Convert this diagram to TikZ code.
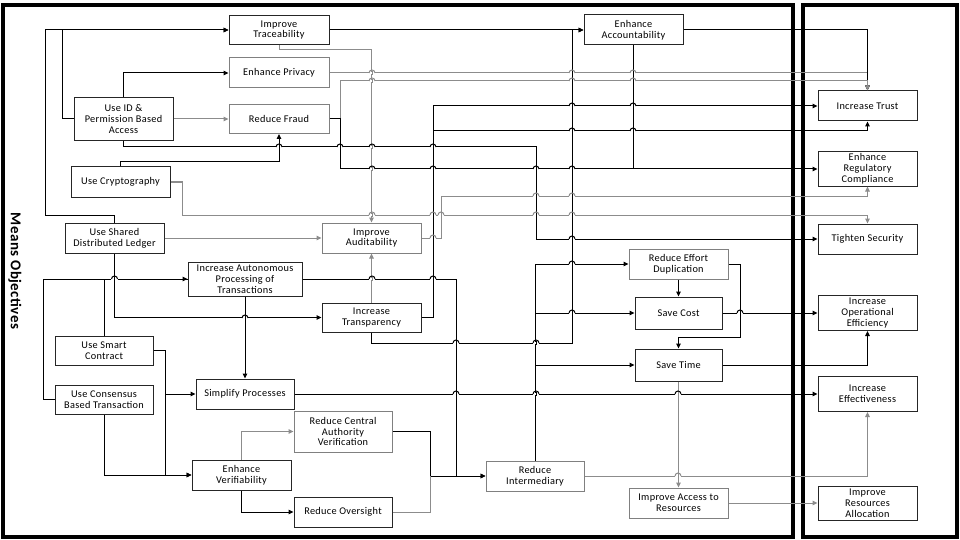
\documentclass[tikz,border=0pt]{standalone}
\usepackage{fontspec}
\setmainfont{Carlito}[LetterSpace=3]
\usetikzlibrary{arrows.meta}
\colorlet{lk}{black}
\colorlet{lg}{black!45}

\begin{document}
\begin{tikzpicture}[x=1pt,y=-1pt,
  box/.style={draw=black!85, line width=1pt, fill=white, align=center, inner sep=0pt,
    font=\fontsize{10.3}{10.8}\selectfont},
  gbox/.style={box, draw=black!50},
  wh/.style 2 args={minimum width=#1, minimum height=#2},
  wire/.style={draw=lk, line width=1pt, -{Triangle[length=5pt,width=4.5pt]}},
  gwire/.style={wire, draw=lg},
  link/.style={draw=lk, line width=1pt},
  glink/.style={link, draw=lg},
  frame/.style={draw=black, line width=3.5pt}]
  \useasboundingbox[fill=white] (0,0) rectangle (960,540);
  \draw[frame] (3,5) rectangle (793,537);
  \draw[frame] (803,5) rectangle (957,537);
  \node[rotate=-90, font=\fontsize{15}{17}\selectfont\bfseries] (means) at (15,271) {Means Objectives};

  % means
  \node[box, wh={100}{29}] (trace) at (279,30) {Improve\\Traceability};
  \node[gbox, wh={100}{30}] (privacy) at (279,73) {Enhance Privacy};
  \node[gbox, wh={100}{29}] (fraud) at (279,119) {Reduce Fraud};
  \node[box, wh={99}{43}] (idaccess) at (123.5,119) {Use ID \&\\Permission Based\\Access};
  \node[box, wh={99}{30}] (crypto) at (120.5,182) {Use Cryptography};
  \node[box, wh={99}{30}] (ledger) at (114.5,238) {Use Shared\\Distributed Ledger};
  \node[gbox, wh={99}{30}] (audit) at (371.5,238) {Improve\\Auditability};
  \node[box, wh={114}{34}] (autoproc) at (245,279) {Increase Autonomous\\Processing of\\Transactions};
  \node[box, wh={99}{29}] (transp) at (371.5,317.5) {Increase\\Transparency};
  \node[box, wh={98}{29}] (smart) at (104,350.5) {Use Smart\\Contract};
  \node[box, wh={98}{29}] (consensus) at (104,399.5) {Use Consensus\\Based Transaction};
  \node[box, wh={98}{30}] (simplify) at (245,394) {Simplify Processes};
  \node[gbox, wh={98}{41}] (central) at (343,431.5) {Reduce Central\\Authority\\Verification};
  \node[box, wh={99}{30}] (verif) at (241.5,475) {Enhance\\Verifiability};
  \node[box, wh={98}{30}] (oversight) at (343,512) {Reduce Oversight};
  \node[gbox, wh={98}{30}] (intermed) at (535,476) {Reduce\\Intermediary};
  \node[box, wh={99}{30}] (account) at (633.5,30) {Enhance\\Accountability};
  \node[gbox, wh={99}{30}] (effort) at (678.5,264) {Reduce Effort\\Duplication};
  \node[box, wh={87}{32}] (cost) at (678.5,313) {Save Cost};
  \node[box, wh={87}{32}] (time) at (678.5,365) {Save Time};
  \node[gbox, wh={99}{30}] (access) at (678.5,503) {Improve Access to\\Resources};

  % fundamental objectives
  \node[box, wh={99}{30}] (trust) at (867.5,106) {Increase Trust};
  \node[box, wh={99}{34}] (regul) at (867.5,169) {Enhance\\Regulatory\\Compliance};
  \node[box, wh={99}{30}] (security) at (867.5,239) {Tighten Security};
  \node[box, wh={99}{35}] (opeff) at (867.5,313) {Increase\\Operational\\Efficiency};
  \node[box, wh={99}{35}] (effect) at (867.5,394) {Increase\\Effectiveness};
  \node[box, wh={99}{34}] (alloc) at (867.5,503) {Improve\\Resources\\Allocation};

  \coordinate (split) at (165,394);

  % connectors
  \draw[wire] (ledger.north) |- (45,215) |- (trace.west);
  \draw[wire] (idaccess.west) -| (62,30) -- (trace.west);
  \draw[wire] (idaccess.north) |- (privacy.west);
  \draw[gwire] (idaccess.east |- fraud.west) -- (fraud.west);
  \draw[wire] (idaccess.south) |- (536,147) |- (security.west);
  \draw[wire] (crypto.north) |- (279,162) -- (fraud.south);
  \draw[gwire] (crypto.east) -| (182,215) -| (security.north);
  \draw[gwire] (ledger.east) -- (audit.west);
  \draw[gwire] (trace.south) |- (371.5,50) -- (audit.north);
  \draw[gwire] (privacy.east) -| (trust.north);
  \draw[wire] (account.east) -| (trust.north);
  \draw[gwire] (fraud.east) -| (340,81) -| (trust.north);
  \draw[wire] (fraud.east) -| (340,169) -- (regul.west);
  \draw[link] (account.south) -- (account.south |- regul.west);
  \draw[wire] (transp.east) -| (433,106) -- (trust.west);
  \draw[wire] (transp.east) -| (433,131) -| (trust.south);
  \draw[gwire] (audit.east) -| (441,196) -| (regul.south);
  \draw[wire] (transp.south) |- (572,343) |- (account.west);
  \draw[wire] (trace.east) -- (account.west);
  \draw[gwire] (transp.north) -- (audit.south);
  \draw[wire] (consensus.west) -| (43,279) -- (autoproc.west);
  \draw[link] (smart.north) |- (autoproc.west);
  \draw[wire] (ledger.south) |- (transp.west);
  \draw[wire] (autoproc.south) -- (simplify.north);
  \draw[wire] (autoproc.east) -| (456,476) -- (intermed.west);
  \draw[wire] (smart.east) -| (165,475) -- (verif.west);
  \draw[wire] (split) -- (simplify.west);
  \draw[wire] (consensus.south) |- (verif.west);
  \draw[wire] (simplify.east) -- (effect.west);
  \draw[gwire] (verif.north) |- (central.west);
  \draw[wire] (verif.south) |- (oversight.west);
  \draw[wire] (central.east) -| (430,476) -- (intermed.west);
  \draw[glink] (oversight.east) -| (430,476);
  \draw[wire] (intermed.north) |- (effort.west);
  \draw[wire] (intermed.north |- cost.west) -- (cost.west);
  \draw[wire] (intermed.north |- time.west) -- (time.west);
  \draw[wire] (effort.south) -- (cost.north);
  \draw[wire] (effort.east) -| (740,337) -| (time.north);
  \draw[wire] (cost.east) -- (opeff.west);
  \draw[wire] (time.east) -| (opeff.south);
  \draw[gwire] (time.south) -- (access.north);
  \draw[gwire] (intermed.east) -| (effect.south);
  \draw[gwire] (access.east) -- (alloc.west);

  % line hops
  \foreach \x/\y/\h/\v in {372/73/lg/lg, 572/73/lg/lk, 633/73/lg/lk,
      372/81/lg/lg, 572/81/lg/lk, 633/81/lg/lk,
      572/106/lk/lk, 633/106/lk/lk, 572/131/lk/lk, 633/131/lk/lk,
      279/147/lk/lk, 340/147/lk/lk, 372/147/lk/lg, 433/147/lk/lk,
      372/169/lk/lg, 433/169/lk/lk, 536/169/lk/lk, 572/169/lk/lk,
      536/196/lg/lk, 572/196/lg/lk,
      372/215/lg/lg, 433/215/lg/lk, 441/215/lg/lg, 536/215/lg/lk, 572/215/lg/lk,
      572/239/lk/lk, 433/238/lg/lk,
      114.5/279/lk/lk, 372/279/lk/lg, 433/279/lk/lk, 245/318/lk/lk,
      456/343/lk/lk, 536/343/lk/lk, 572/264/lk/lk, 572/313/lk/lk, 740/313/lk/lk,
      456/394/lk/lk, 536/394/lk/lk, 678/394/lk/lg, 678/476/lg/lg} {
    \fill[white] (\x-3.4,\y-1.4) rectangle (\x+3.4,\y+1.4);
    \draw[line width=1pt, draw=\v] (\x,\y-2) -- (\x,\y+2);
    \draw[line width=1pt, draw=\h] (\x-3,\y) arc[start angle=180, end angle=360, radius=3];
  }
\end{tikzpicture}
\end{document}
